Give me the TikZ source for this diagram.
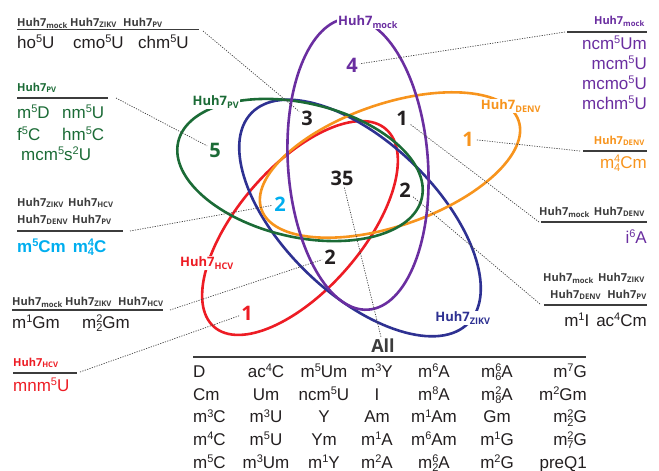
\documentclass[tikz,border=0pt]{standalone}
\usepackage{fontspec}
\setmainfont{Liberation Sans}
\newfontfamily\labfont{Open Sans}
\definecolor{cpurple}{HTML}{6A2EA0}
\definecolor{cgreen}{HTML}{1B6B36}
\definecolor{corange}{HTML}{F7941D}
\definecolor{cred}{HTML}{ED1C24}
\definecolor{cblue}{HTML}{2E3192}
\definecolor{ccyan}{HTML}{00AEEF}
\definecolor{hdrgray}{HTML}{3C3C3C}
\definecolor{txtblack}{HTML}{231F20}
\definecolor{dotgray}{HTML}{444444}
\newcommand\hh[1]{Huh7\textsubscript{#1}}
\newcommand\upx[1]{\raisebox{5.5pt}{\fontsize{11}{11}\selectfont #1}}
\newcommand\stk[2]{\rlap{\raisebox{5.5pt}{\fontsize{11}{11}\selectfont #1}}\raisebox{-3.5pt}{\fontsize{11}{11}\selectfont #2}}
\tikzset{
  ell/.style={line width=2.6pt},
  lbl/.style={font=\labfont\bfseries\fontsize{13}{13}\selectfont, fill=white, inner sep=1pt},
  hdr/.style={font=\labfont\bfseries\fontsize{11}{12}\selectfont, text=hdrgray, inner sep=0pt},
  body/.style={font=\fontsize{17}{20}\selectfont, text=txtblack, inner sep=0pt},
  num/.style={font=\labfont\bfseries\fontsize{20}{20}\selectfont, inner sep=2pt},
  rulel/.style={line width=1.5pt, draw=hdrgray},
  dotline/.style={dash pattern=on 1.2pt off 1.3pt, line width=0.7pt, draw=dotgray},
}
\begin{document}
\begin{tikzpicture}[x=1pt,y=-1pt]
\useasboundingbox (0,0) rectangle (659,471);
% ellipses
\draw[ell,cred, rotate around={49:(300,228)}] (300,228) ellipse [x radius=131pt, y radius=62pt];
\draw[ell,cblue, rotate around={-44:(360,218)}] (360,218) ellipse [x radius=151pt, y radius=76pt];
\draw[ell,corange, rotate around={19:(390,165)}] (390,165) ellipse [x radius=136pt, y radius=61pt];
\draw[ell,cgreen, rotate around={-13:(300,170)}] (300,170) ellipse [x radius=125pt, y radius=67pt];
\draw[ell,cpurple, rotate around={4:(358,164)}] (358,164) ellipse [x radius=70pt, y radius=146pt];
% ellipse labels
\node[lbl,text=cpurple] (lmock) at (368,22) {\hh{mock}};
\node[lbl,text=cgreen] (lpv) at (216,102) {\hh{PV}};
\node[lbl,text=corange] (ldenv) at (511,106) {\hh{DENV}};
\node[lbl,text=cred] (lhcv) at (207,263) {\hh{HCV}};
\node[lbl,text=cblue] (lzikv) at (463,318) {\hh{ZIKV}};
% numbers
\node[num,text=txtblack] (n3) at (307,118) {3};
\node[num,text=txtblack] (n1a) at (402,118) {1};
\node[num,text=cpurple] (n4) at (352,65) {4};
\node[num,text=cgreen] (n5) at (215,150) {5};
\node[num,text=corange] (n1d) at (468,139) {1};
\node[num,text=txtblack] (n35) at (342,178) {35};
\node[num,text=txtblack] (n2a) at (405,190) {2};
\node[num,text=ccyan] (n2c) at (280,204) {2};
\node[num,text=txtblack] (n2b) at (330,257) {2};
\node[num,text=cred] (n1r) at (247,313) {1};
% block A
\node[hdr,anchor=base west] (hA1) at (17,26) {\hh{mock}};
\node[hdr,anchor=base west] (hA2) at (70,26) {\hh{ZIKV}};
\node[hdr,anchor=base west] (hA3) at (123,26) {\hh{PV}};
\draw[rulel] (17,29.5) -- (199,29.5);
\coordinate (cA) at (203,31);
\node[body,anchor=base west] (a1) at (17,48) {ho\upx{5}U};
\node[body,anchor=base west] (a2) at (73,48) {cmo\upx{5}U};
\node[body,anchor=base west] (a3) at (138,48) {chm\upx{5}U};
\draw[dotline] (cA) -- (n3);
% block B
\node[hdr,anchor=base west,text=cgreen] (hB) at (17,91) {\hh{PV}};
\draw[rulel] (17,98) -- (108,98);
\coordinate (cB) at (116,98);
\node[body,anchor=base west,text=cgreen] (b1) at (17,118) {m\upx{5}D};
\node[body,anchor=base west,text=cgreen] (b2) at (62,118) {nm\upx{5}U};
\node[body,anchor=base west,text=cgreen] (b3) at (17,140) {f\upx{5}C};
\node[body,anchor=base west,text=cgreen] (b4) at (62,140) {hm\upx{5}C};
\node[body,anchor=base west,text=cgreen] (b5) at (21,160) {mcm\upx{5}s\upx{2}U};
\draw[dotline] (cB) -- (n5);
% block C
\node[hdr,anchor=base east,text=cpurple] (hC) at (645,24) {\hh{mock}};
\draw[rulel] (567,32) -- (647,32);
\coordinate (cC) at (565,32);
\node[body,anchor=base east,text=cpurple] (c1) at (647,49) {ncm\upx{5}Um};
\node[body,anchor=base east,text=cpurple] (c2) at (647,69) {mcm\upx{5}U};
\node[body,anchor=base east,text=cpurple] (c3) at (647,89) {mcmo\upx{5}U};
\node[body,anchor=base east,text=cpurple] (c4) at (647,109) {mchm\upx{5}U};
\draw[dotline] (cC) -- (n4);
% block D
\node[hdr,anchor=base east,text=corange] (hD) at (645,144) {\hh{DENV}};
\draw[rulel] (583,151) -- (647,151);
\coordinate (cD) at (580,151);
\node[body,anchor=base east,text=corange] (d1) at (647,168) {m\stk{4}{4}Cm};
\draw[dotline] (cD) -- (n1d);
% block E
\node[hdr,anchor=base west] (hE1) at (539,215) {\hh{mock}};
\node[hdr,anchor=base east] (hE2) at (645,215) {\hh{DENV}};
\draw[rulel] (541,222) -- (647,222);
\coordinate (cE) at (539,222);
\node[body,anchor=base east,text=cpurple] (e1) at (647,243) {i\upx{6}A};
\draw[dotline] (cE) -- (n1a);
% block F
\node[hdr,anchor=base west] (hF1) at (543,281) {\hh{mock}};
\node[hdr,anchor=base east] (hF2) at (645,281) {\hh{ZIKV}};
\node[hdr,anchor=base west] (hF3) at (550,298) {\hh{DENV}};
\node[hdr,anchor=base east] (hF4) at (647,298) {\hh{PV}};
\draw[rulel] (544,305) -- (647,305);
\coordinate (cF) at (540,304);
\node[body,anchor=base east] (f1) at (647,326) {m\upx{1}I\hspace{7pt}ac\upx{4}Cm};
\draw[dotline] (cF) -- (n2a);
% block G
\node[hdr,anchor=base west] (hG1) at (17,206) {\hh{ZIKV}};
\node[hdr,anchor=base west] (hG2) at (68,206) {\hh{HCV}};
\node[hdr,anchor=base west] (hG3) at (17,223) {\hh{DENV}};
\node[hdr,anchor=base west] (hG4) at (72,223) {\hh{PV}};
\draw[rulel] (17,231) -- (123,231);
\coordinate (cG) at (130,231);
\node[body,anchor=base west,text=ccyan,font=\bfseries\fontsize{17}{20}\selectfont] (g1) at (17,252) {m\upx{5}Cm\hspace{7pt}m\stk{4}{4}C};
\draw[dotline] (cG) -- (n2c);
% block H
\node[hdr,anchor=base west] (hH1) at (12,305) {\hh{mock}};
\node[hdr,anchor=base west] (hH2) at (65,305) {\hh{ZIKV}};
\node[hdr,anchor=base west] (hH3) at (118,305) {\hh{HCV}};
\draw[rulel] (12,310) -- (163,310);
\coordinate (cH) at (170,310);
\node[body,anchor=base west] (h1) at (12,328) {m\upx{1}Gm};
\node[body,anchor=base west] (h2) at (82,328) {m\stk{2}{2}Gm};
\draw[dotline] (cH) -- (n2b);
% block I
\node[hdr,anchor=base west,text=cred] (hI) at (13,366) {\hh{HCV}};
\draw[rulel] (13,373) -- (77,373);
\coordinate (cI) at (80,372);
\node[body,anchor=base west,text=cred] (i1) at (13,391) {mnm\upx{5}U};
\draw[dotline] (cI) -- (n1r);
% table
\node[font=\labfont\bfseries\fontsize{18}{18}\selectfont,text=hdrgray,anchor=base,inner sep=1pt] (all) at (383,352) {All};
\draw[rulel] (193,357) -- (586,357);
\draw[dotline] (n35) -- (all);
\foreach \y/\a/\b/\c/\d/\e/\f/\g [count=\i] in {
 377/D/ac\upx{4}C/m\upx{5}Um/m\upx{3}Y/m\upx{6}A/m\stk{6}{6}A/m\upx{7}G,
 400/Cm/Um/ncm\upx{5}U/I/m\upx{8}A/m\stk{2}{8}A/m\upx{2}Gm,
 422.5/m\upx{3}C/m\upx{3}U/Y/Am/m\upx{1}Am/Gm/m\stk{2}{2}G,
 445/m\upx{4}C/m\upx{5}U/Ym/m\upx{1}A/m\upx{6}Am/m\upx{1}G/m\stk{2}{7}G,
 468/m\upx{5}C/m\upx{3}Um/m\upx{1}Y/m\upx{2}A/m\stk{6}{2}A/m\upx{2}G/preQ1}
{
 \node[body,anchor=base west] (t\i a) at (193,\y) {\a};
 \node[body,anchor=base] (t\i b) at (266,\y) {\b};
 \node[body,anchor=base] (t\i c) at (324,\y) {\c};
 \node[body,anchor=base] (t\i d) at (377,\y) {\d};
 \node[body,anchor=base] (t\i e) at (434,\y) {\e};
 \node[body,anchor=base] (t\i f) at (497,\y) {\f};
 \node[body,anchor=base east] (t\i g) at (587,\y) {\g};
}
\end{tikzpicture}
\end{document}
